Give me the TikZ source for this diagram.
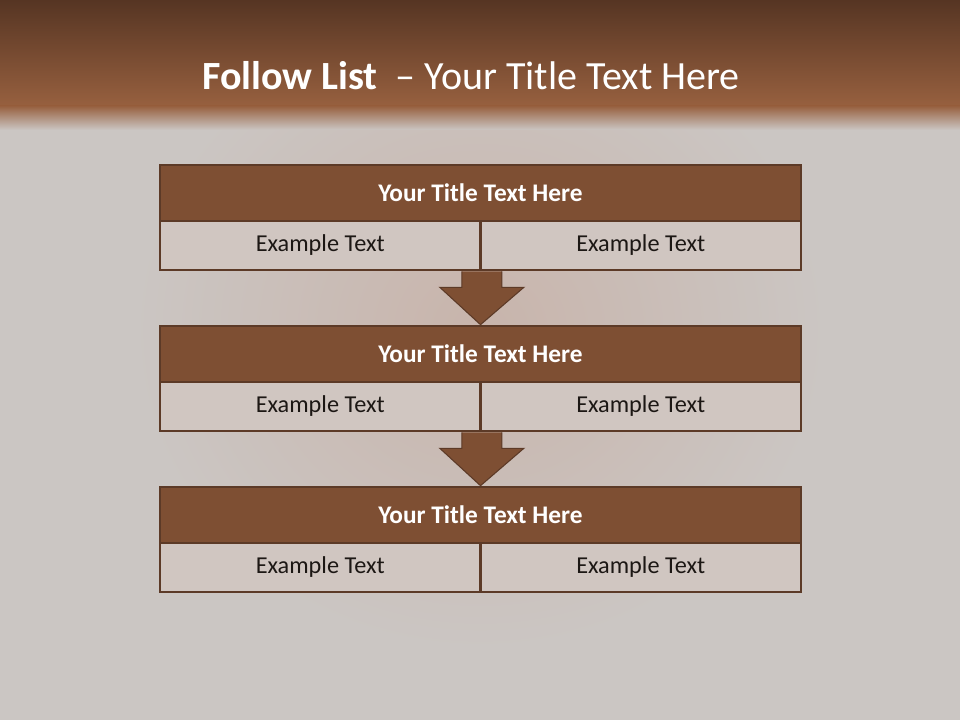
\documentclass[tikz,border=0pt]{standalone}
\usepackage{fontspec}
\setmainfont{Carlito}
\usetikzlibrary{calc}
\definecolor{pagegray}{HTML}{CBC6C3}
\definecolor{photopink}{HTML}{C8B4AB}
\definecolor{bandtop}{HTML}{563523}
\definecolor{bandbot}{HTML}{97603F}
\definecolor{headbrown}{HTML}{7E4F33}
\definecolor{edgebrown}{HTML}{5C3A27}
\definecolor{cellgray}{HTML}{D0C6C1}
\definecolor{textdark}{HTML}{1C1714}
\tikzstyle{pagetitle} = [text=white, inner sep=0pt, font=\fontsize{30}{34}\selectfont]
\tikzstyle{headbox}   = [draw=edgebrown, fill=headbrown, line width=2pt, minimum width=480.75pt, minimum height=42pt, inner sep=0pt, text=white, font=\fontsize{19}{22}\selectfont\bfseries]
\tikzstyle{cellbox}   = [draw=edgebrown, fill=cellgray, line width=2pt, minimum width=240.4pt, minimum height=36.75pt, inner sep=0pt, text=textdark, font=\fontsize{18.2}{21}\selectfont]
\tikzstyle{blockarrow} = [draw=edgebrown, fill=headbrown, line width=0.8pt, line join=miter]
\begin{document}
\begin{tikzpicture}[x=0.75pt, y=-0.75pt]

        % Hintergrund
        \fill[pagegray] (0,0) rectangle (960,720);
        \shade[inner color=photopink, outer color=pagegray] (480,330) ellipse (260pt and 240pt);
        \shade[top color=bandtop, bottom color=bandbot] (0,0) rectangle (960,106);
        \shade[top color=bandbot, bottom color=pagegray] (0,106) rectangle (960,130);

        % Titel
        \node[pagetitle] (slidetitle) at (471,76)
            {\textbf{Follow List}\ \ – Your Title Text Here};

        % Erste Stufe
        \node[headbox] (head1) at (480.5,193) {Your Title Text Here};
        \node[cellbox] (left1) at (320.25,245.5) {Example Text};
        \node[cellbox] (right1) at (640.75,245.5) {Example Text};

        % Zweite Stufe
        \node[headbox] (head2) at (480.5,354) {Your Title Text Here};
        \node[cellbox] (left2) at (320.25,406.5) {Example Text};
        \node[cellbox] (right2) at (640.75,406.5) {Example Text};

        % Dritte Stufe
        \node[headbox] (head3) at (480.5,515) {Your Title Text Here};
        \node[cellbox] (left3) at (320.25,567.5) {Example Text};
        \node[cellbox] (right3) at (640.75,567.5) {Example Text};

        % Pfeile zwischen den Stufen
        \foreach \a/\b in {1/2,2/3} {
            \draw[blockarrow] ($(left\a.south east)+(-20,0)$)
                -- ($(left\a.south east)+(-20,16)$)
                -- ($(left\a.south east)+(-42,16)$)
                -- (head\b.north)
                -- ($(left\a.south east)+(42,16)$)
                -- ($(left\a.south east)+(20,16)$)
                -- ($(left\a.south east)+(20,0)$);
        }

\end{tikzpicture}
\end{document}
